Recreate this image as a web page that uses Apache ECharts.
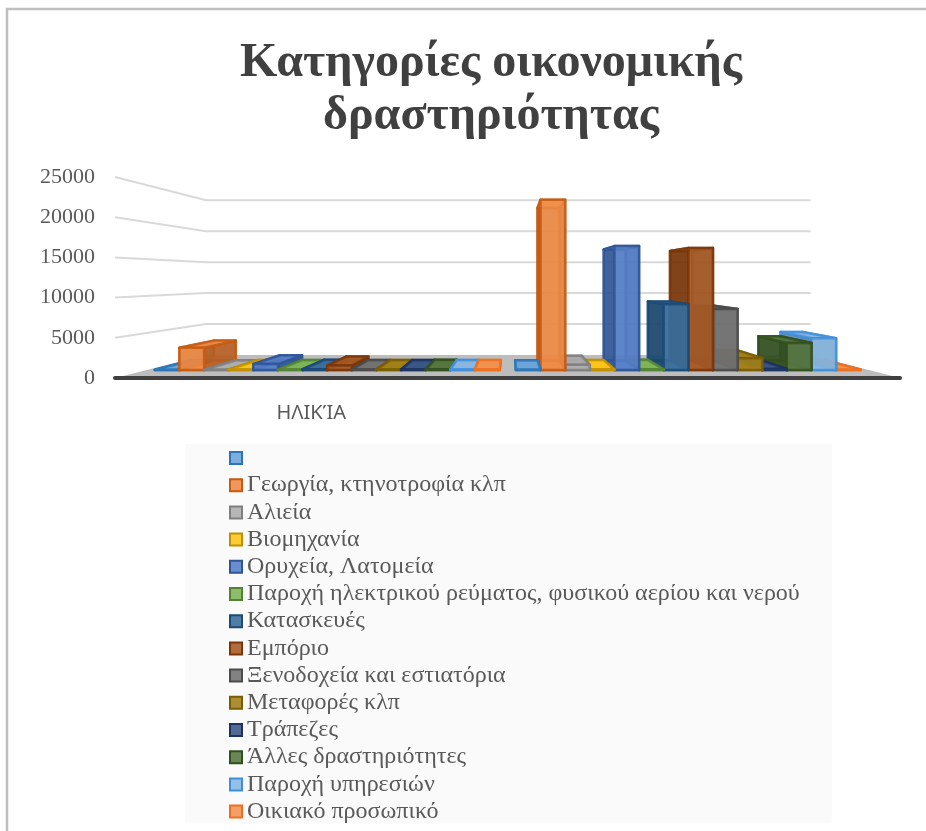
<!DOCTYPE html>
<html><head><meta charset="utf-8">
<style>html,body{margin:0;padding:0;background:#fff}#c{width:926px;height:831px}</style>
<script src="https://cdn.jsdelivr.net/npm/echarts@6/dist/echarts.min.js"></script>
</head><body><div id="c"></div>
<script>
const categories = ['ΗΛΙΚΊΑ', ''];
const yTicks = [5000, 10000, 15000, 20000, 25000];
const seriesNames = ['\u00a0','Γεωργία, κτηνοτροφία κλπ','Αλιεία','Βιομηχανία','Ορυχεία, Λατομεία',
 'Παροχή ηλεκτρικού ρεύματος, φυσικού αερίου και νερού','Κατασκευές','Εμπόριο','Ξενοδοχεία και εστιατόρια',
 'Μεταφορές κλπ','Τράπεζες','Άλλες δραστηριότητες','Παροχή υπηρεσιών','Οικιακό προσωπικό'];
const colors = ['#5B9BD5','#ED7D31','#A5A5A5','#FFC000','#4472C4','#70AD47','#255E91','#9E480E','#636363','#997300','#264478','#43682B','#7CAFDD','#F1873F'];
const edges  = ['#2E75B6','#C55A11','#7F7F7F','#BF9000','#2F5597','#548235','#1B4A75','#7A3608','#4A4A4A','#7A5C00','#1C3360','#32501F','#3F8FDC','#ED7020'];
const ageValues =   [30, 3000, 40, 60, 800, 60, 100, 600, 80, 80, 80, 100, 60, 60];
const totalValues = [50, 23000, 700, 60, 16750, 100, 8900, 16500, 8250, 1600, 150, 3650, 4300, 50];

// perspective of the 3D scene
const VP = [511, 278], BACK = 0.77, BAR_FRONT = 0.92, BAR_BACK = 0.825, BAND = 0.955;
const proj = (p, s) => [VP[0] + (p[0] - VP[0]) * s, VP[1] + (p[1] - VP[1]) * s];
function shade(hex, k) {
  const n = parseInt(hex.slice(1), 16);
  const c = [n >> 16, (n >> 8) & 255, n & 255].map(v => k < 1 ? v * k : v + (255 - v) * (k - 1));
  return 'rgb(' + c.map(Math.round).join(',') + ')';
}
function edgesOf(api, v) {
  const half = api.size([1, 0])[0] / 2;
  const a = api.coord([0, v]), b = api.coord([categories.length - 1, v]);
  return [[a[0] - half, a[1]], [b[0] + half, b[1]]];
}
function wallItem(params, api) {
  const [a, b] = edgesOf(api, api.value(0));
  return { type: 'polyline', silent: true,
    shape: { points: [a, proj(a, BACK), proj(b, BACK)] },
    style: { stroke: '#d9d9d9', lineWidth: 2, fill: null } };
}
function floorItem(params, api) {
  const [a, b] = edgesOf(api, 0);
  return { type: 'polygon', silent: true,
    shape: { points: [a, proj(a, BACK), proj(b, BACK), b] },
    style: { fill: '#bdbdbd' } };
}
function barItem(i) {
  return function (params, api) {
    const c = api.coord([api.value(0), 0]), t = api.coord([api.value(0), api.value(1)]);
    const w = api.size([1, 0])[0] * BAND / seriesNames.length;
    const x0 = c[0] + (i - seriesNames.length / 2) * w, x1 = x0 + w;
    const p = (x, y, s) => proj([x, y], s);
    const F = BAR_FRONT, B = BAR_BACK;
    const fbl = p(x0, c[1], F), fbr = p(x1, c[1], F), ftl = p(x0, t[1], F), ftr = p(x1, t[1], F);
    const bbl = p(x0, c[1], B), bbr = p(x1, c[1], B), btl = p(x0, t[1], B), btr = p(x1, t[1], B);
    const col = colors[i], edge = edges[i];
    const order = 1000 - Math.round(Math.abs((fbl[0] + fbr[0]) / 2 - VP[0]));
    const face = (pts, fill, op, dz) => ({ type: 'polygon', silent: true, z2: order * 10 + dz,
      shape: { points: pts },
      style: { fill, opacity: op, stroke: edge, lineWidth: 2.5, lineJoin: 'round' } });
    return { type: 'group', children: [
      face([bbl, bbr, fbr, fbl], col, 0.9, 0),
      face([btl, btr, bbr, bbl], shade(col, 0.85), 0.7, 1),
      face([ftl, btl, bbl, fbl], shade(col, 0.75), 0.8, 2),
      face([ftr, btr, bbr, fbr], shade(col, 0.75), 0.8, 3),
      face([btl, btr, ftr, ftl], shade(col, 1.1), 0.85, 4),
      face([ftl, ftr, fbr, fbl], shade(col, 1.12), 0.82, 5)
    ] };
  };
}

const barSeries = seriesNames.map((name, i) => ({
  name, type: 'custom', coordinateSystem: 'cartesian2d', z: 5, clip: false,
  renderItem: barItem(i), encode: { x: 0, y: 1 },
  itemStyle: { color: shade(colors[i], 1.2), borderColor: edges[i], borderWidth: 2.5 },
  data: [[0, ageValues[i]], [1, totalValues[i]]]
}));

const chart = echarts.init(document.getElementById('c'), null, { renderer: 'canvas' });
chart.setOption({
  animation: false,
  backgroundColor: '#fff',
  title: {
    text: 'Κατηγορίες οικονομικής\nδραστηριότητας',
    left: 486, top: 32, textAlign: 'center',
    textStyle: { fontFamily: 'Liberation Serif', fontWeight: 'bold', fontSize: 48, lineHeight: 53, color: '#404040' }
  },
  grid: { left: 115, width: 785, top: 177, height: 201 },
  xAxis: { type: 'category', data: categories, boundaryGap: true, z: 6,
    axisLine: { lineStyle: { color: '#404040', width: 4 } }, axisTick: { show: false },
    axisLabel: { fontFamily: 'Noto Sans', fontSize: 20, color: '#595959', margin: 25 } },
  yAxis: { type: 'value', min: 0, max: 25000, interval: 5000,
    axisLine: { show: false }, axisTick: { show: false }, splitLine: { show: false },
    axisLabel: { fontFamily: 'Liberation Serif', fontSize: 22, color: '#595959', margin: 20,
      padding: [8, 0, 0, 0], formatter: v => String(v) } },
  legend: {
    orient: 'vertical', left: 185, top: 444, selectedMode: false,
    data: seriesNames, icon: 'rect', itemWidth: 12, itemHeight: 12, itemGap: 3.2,
    backgroundColor: '#fafafa', padding: [2, 32, 0, 44],
    textStyle: { fontFamily: 'Liberation Serif', fontSize: 24, color: '#595959' }
  },
  graphic: [{ type: 'polyline', silent: true, shape: { points: [[7, 831], [7, 9], [926, 9]] },
    style: { stroke: '#bfbfbf', lineWidth: 2.5, fill: null } }],
  series: [
    { type: 'custom', name: 'wall', z: 1, renderItem: wallItem, clip: false, encode: { y: 0 }, data: yTicks.map(v => [v]) },
    { type: 'custom', name: 'floor', z: 2, renderItem: floorItem, clip: false, data: [[0]] },
    ...barSeries
  ]
});
</script></body></html>
